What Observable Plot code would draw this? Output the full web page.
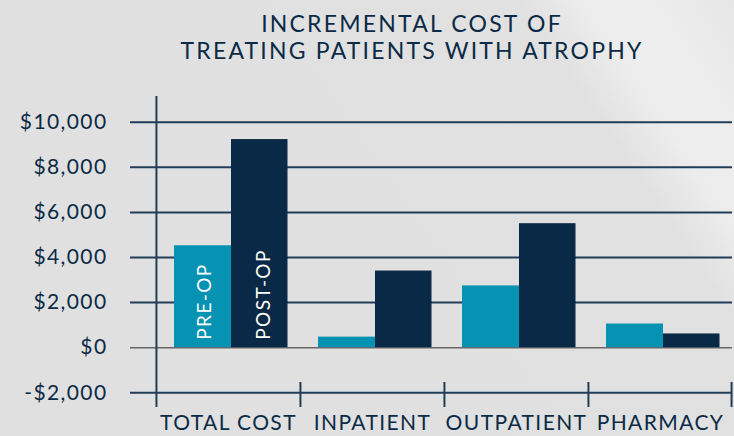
<!DOCTYPE html>
<html>
<head>
<meta charset="utf-8">
<script src="https://cdn.jsdelivr.net/npm/d3@7"></script>
<script src="https://cdn.jsdelivr.net/npm/@observablehq/plot@0.6"></script>
<style>
  html, body { margin: 0; padding: 0; }
  #wrap {
    position: relative; width: 734px; height: 436px; overflow: hidden;
    background: linear-gradient(236deg, #e6e6e6 0%, #eeeeee 10%, #ececec 15%, #e1e1e1 21%, #e0e0e0 100%);
    font-family: Lato, sans-serif; color: #0b2a45;
  }
  #title {
    position: absolute; left: 90px; top: 0; width: 644px; height: 80px;
    text-align: center; font-size: 23px; line-height: 27px; padding-top: 10px;
    box-sizing: border-box; letter-spacing: 2.2px; color: #0b2a45;
  }
  #chart { position: absolute; left: 0; top: 80px; }
  #chart svg text { letter-spacing: 1.4px; }
</style>
</head>
<body>
<div id="wrap">
  <div id="title">INCREMENTAL COST OF<br>TREATING PATIENTS WITH ATROPHY</div>
  <div id="chart"></div>
</div>
<script>
const categories = ["TOTAL COST", "INPATIENT", "OUTPATIENT", "PHARMACY"];
const preOp = [4520, 470, 2740, 1050];
const postOp = [9230, 3400, 5500, 610];
const yTicks = [-2000, 0, 2000, 4000, 6000, 8000, 10000];
const seriesLabels = ["PRE-OP", "POST-OP"];

const rows = categories.map((c, i) => ({category: c, pre: preOp[i], post: postOp[i]}));
const fmt = v => (v < 0 ? "-$" : "$") + d3.format(",")(Math.abs(v));

const W = 734, H = 356, mL = 155.5, mR = 2;
const bw = (W - mL - mR) / categories.length;
const navy = "#0a2946", teal = "#0592b3", grid = "#223d59";

const plot = Plot.plot({
  width: W, height: H,
  marginLeft: mL, marginRight: mR, marginTop: 16, marginBottom: 29,
  style: {background: "transparent", fontFamily: "Lato, sans-serif", color: "#0b2a45"},
  x: {domain: categories, paddingInner: 0, paddingOuter: 0, axis: null, label: null},
  y: {domain: [-2000, 10000], insetTop: 25.7, insetBottom: 14.7, axis: null, label: null},
  marks: [
    Plot.ruleY(yTicks.filter(v => v !== 0), {y: d => d, stroke: grid, strokeWidth: 2, insetLeft: -25.5}),
    Plot.ruleY([0], {y: d => d, stroke: "#666", strokeWidth: 1.5, insetLeft: -25.5}),
    Plot.ruleX([categories[0]], {x: d => d, dx: -bw / 2, stroke: grid, strokeWidth: 2}),
    Plot.ruleX(categories.slice(1), {x: d => d, dx: -bw / 2, stroke: grid, strokeWidth: 2, insetTop: 286}),
    Plot.ruleX([categories[categories.length - 1]], {x: d => d, dx: bw / 2 - 1, stroke: grid, strokeWidth: 2, insetTop: 286}),
    Plot.barY(rows, {x: "category", y: "pre", fill: teal, insetLeft: 18, insetRight: 69}),
    Plot.barY(rows, {x: "category", y: "post", fill: navy, insetLeft: 75, insetRight: 12.5}),
    Plot.text([categories[0]], {x: d => d, y: 0, text: () => seriesLabels[0], rotate: -90, textAnchor: "start", dx: -24, dy: -8, fill: "white", fontSize: 19}),
    Plot.text([categories[0]], {x: d => d, y: 0, text: () => seriesLabels[1], rotate: -90, textAnchor: "start", dx: 35, dy: -8, fill: "white", fontSize: 19}),
    Plot.axisY(yTicks, {tickSize: 0, tickPadding: 48.5, tickFormat: fmt, fontSize: 21, fill: "#0b2a45", label: null}),
    Plot.axisX({tickSize: 0, tickPadding: 8, fontSize: 21, fill: "#0b2a45", label: null})
  ]
});
document.getElementById("chart").appendChild(plot);
</script>
</body>
</html>
